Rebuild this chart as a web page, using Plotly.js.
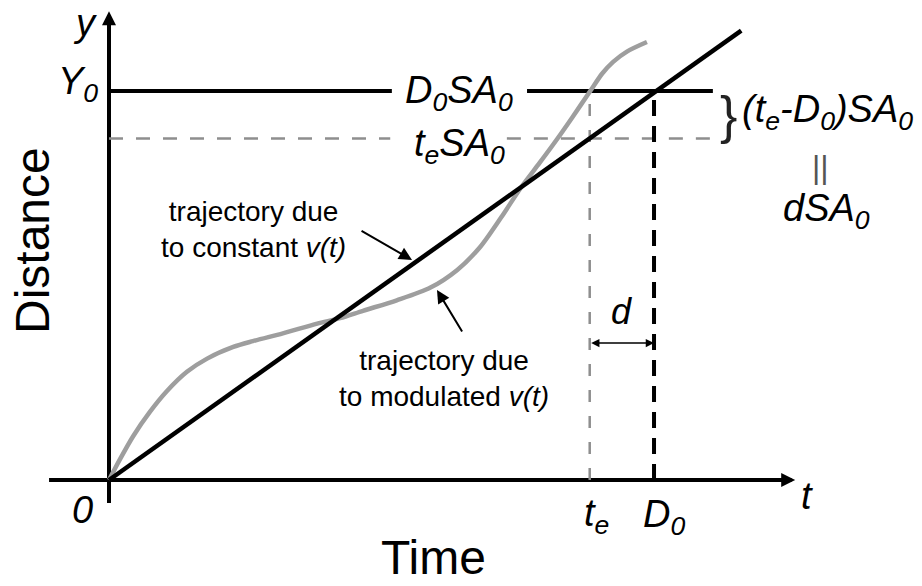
<!DOCTYPE html>
<html>
<head>
<meta charset="utf-8">
<script src="https://cdn.plot.ly/plotly-3.0.1.min.js"></script>
<style>html,body{margin:0;padding:0;background:#fff;}#chart{width:922px;height:586px;}</style>
</head>
<body>
<div id="chart"></div>
<script>
// ---- data (time t in units of D0, distance in units of Y0) ----
const tConstant = [0, 1.16];
const dConstant = [0, 1.155];

const tModulated = [0, 0.020, 0.044, 0.075, 0.106, 0.143, 0.180, 0.228, 0.264, 0.319, 0.382, 0.424,
  0.466, 0.528, 0.589, 0.639, 0.681, 0.720, 0.756, 0.790, 0.820, 0.850, 0.883, 0.905, 0.925, 0.951, 0.987];
const dModulated = [0, 0.053, 0.112, 0.175, 0.228, 0.278, 0.312, 0.342, 0.357, 0.377, 0.402, 0.416,
  0.435, 0.462, 0.494, 0.540, 0.599, 0.676, 0.752, 0.815, 0.872, 0.932, 1.000, 1.045, 1.075, 1.102, 1.126];

const Y0 = 1.0;       // target distance
const D0 = 1.0;       // time to reach Y0 at constant speed
const te = 0.882;     // time to reach Y0 with modulated speed
const teLevel = 0.878; // distance te*SA0

const xAxisSpan = [-0.110, 1.235];
const yAxisSpan = [-0.059, 1.17];
const y0LineLeft = [0, 0.519];
const y0LineRight = [0.767, 1.108];
const teLineLeft = [0, 0.516];
const teLineRight = [0.730, 1.103];
const dArrowLevel = 0.352;

const FONT = 'Arial, "Liberation Sans", sans-serif';
const grey = '#9e9e9e';
const greyDash = '#8e8e8e';

function seg(x, y, color, width, dash) {
  return {x: x, y: y, type: 'scatter', mode: 'lines', hoverinfo: 'skip',
          line: {color: color, width: width, dash: dash || 'solid'}};
}

const traces = [
  // axes
  seg(xAxisSpan, [0, 0], '#000', 4),
  seg([0, 0], yAxisSpan, '#000', 4),
  // te*SA0 dotted level
  seg(teLineLeft, [teLevel, teLevel], greyDash, 2.5, '14px,13px'),
  seg(teLineRight, [teLevel, teLevel], greyDash, 2.5, '14px,13px'),
  // te vertical
  seg([te, te], [0, Y0], greyDash, 2.5, '12px,14px'),
  // D0 vertical dashed
  seg([D0, D0], [0, Y0], '#000', 4, '16px,10px'),
  // Y0 level
  seg(y0LineLeft, [Y0, Y0], '#000', 4),
  seg(y0LineRight, [Y0, Y0], '#000', 4),
  // trajectories
  seg(tModulated, dModulated, grey, 4.5),
  seg(tConstant, dConstant, '#000', 4.5)
];
traces[8].line.shape = 'spline';
traces[8].line.smoothing = 0.8;

function txt(x, y, text, size, extra) {
  return Object.assign({x: x, y: y, xref: 'x', yref: 'y', text: text, showarrow: false,
    xanchor: 'center', yanchor: 'middle', font: {family: FONT, size: size, color: '#000'}}, extra || {});
}
function arrow(x, y, ax, ay, width, size, extra) {
  return Object.assign({x: x, y: y, ax: ax, ay: ay, xref: 'x', yref: 'y', axref: 'x', ayref: 'y',
    text: '', showarrow: true, arrowhead: 2, arrowwidth: width, arrowsize: size, arrowcolor: '#000'}, extra || {});
}

const annotations = [
  // axis arrowheads
  arrow(1.259, 0, 1.20, 0, 4, 0.7),
  arrow(0, 1.205, 0, 1.15, 4, 0.7),
  // axis labels
  txt(1.281, -0.040, '<i>t</i>', 38),
  txt(-0.044, 1.176, '<i>y</i>', 38),
  txt(-0.048, -0.077, '<i>0</i>', 38),
  txt(-0.057, 1.018, '<i>Y<sub>0</sub></i>', 38),
  txt(0.894, -0.092, '<i>t<sub>e</sub></i>', 38),
  txt(1.018, -0.095, '<i>D<sub>0</sub></i>', 38),
  txt(0.596, -0.200, 'Time', 48),
  txt(-0.139, 0.615, 'Distance', 48, {textangle: -90}),
  // level labels
  txt(0.643, 0.995, '<i>D<sub>0</sub>SA<sub>0</sub></i>', 38),
  txt(0.643, 0.858, '<i>t<sub>e</sub>SA<sub>0</sub></i>', 38),
  txt(1.136, 0.938, '}', 52, {font: {family: FONT, size: 52, color: '#222'}}),
  txt(1.319, 0.945, '<i>(t<sub>e</sub>-D<sub>0</sub>)SA<sub>0</sub></i>', 38),
  txt(1.306, 0.805, '||', 32, {font: {family: FONT, size: 32, color: '#555555'}}),
  txt(1.316, 0.692, '<i>dSA<sub>0</sub></i>', 38),
  // d
  txt(0.941, 0.432, '<i>d</i>', 36),
  arrow(D0, dArrowLevel, te, dArrowLevel, 1.5, 1.1, {arrowside: 'end+start'}),
  // trajectory captions
  txt(0.266, 0.643, 'trajectory due<br>to constant <i>v(t)</i>', 28),
  arrow(0.556, 0.5656, 0.4606, 0.6427, 2, 1.3),
  txt(0.615, 0.262, 'trajectory due<br>to modulated <i>v(t)</i>', 28),
  arrow(0.6018, 0.4884, 0.6495, 0.3779, 2, 1.3)
];

const layout = {
  width: 922, height: 586,
  margin: {l: 0, r: 0, t: 0, b: 0},
  paper_bgcolor: '#fff', plot_bgcolor: '#fff',
  showlegend: false,
  xaxis: {range: [-0.2, 1.4917], visible: false, fixedrange: true},
  yaxis: {range: [-0.2725, 1.2339], visible: false, fixedrange: true},
  annotations: annotations
};

Plotly.newPlot('chart', traces, layout, {staticPlot: true, displayModeBar: false});
</script>
</body>
</html>
